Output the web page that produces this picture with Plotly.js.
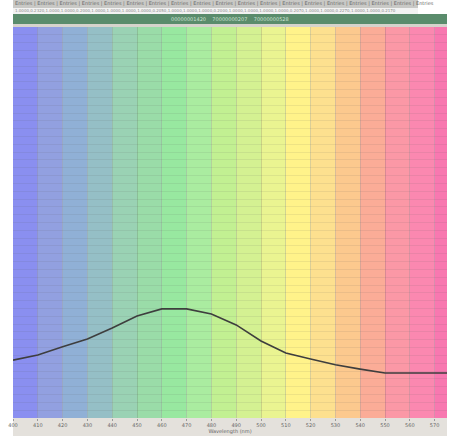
<!DOCTYPE html>
<html><head><meta charset="utf-8">
<script src="https://cdn.plot.ly/plotly-3.0.1.min.js"></script>
<style>html,body{margin:0;padding:0;background:#fff;}#chart{width:455px;height:436px;}</style>
</head><body><div id="chart"></div>
<script>
// data
const tickLabels = ["400","410","420","430","440","450","460","470","480","490","500","510","520","530","540","550","560","570"];
const pointX = [0,1,2,3,4,5,6,7,8,9,10,11,12,13,14,15,16,17.5];
const pointY = [0.148,0.161,0.182,0.202,0.230,0.261,0.279,0.279,0.266,0.238,0.197,0.166,0.151,0.136,0.125,0.115,0.115,0.115];
const bandStart = [0,1,2,3,4,5,6,7,8,9,10,11,12,13,14,15,16,17];
const bandColors = ["#8a8ff0","#92a0e0","#90b0d6","#95bfc6","#9ad2b4","#9adca8","#98e8a0","#aaeca0","#c2f092","#d4f192","#eaf491","#fff38a","#fde08f","#fcc98e","#fbac97","#fb98a6","#fb88b0","#f878b0"];

const ty = py => (418 - py) / 391;
const tx = px => (px - 13) / 434;

const shapes = bandStart.map((s, i) => ({
  type: 'rect', xref: 'x', yref: 'paper', layer: 'below',
  x0: s, x1: s + 1, y0: 0, y1: 1,
  fillcolor: bandColors[i], line: {width: 0}
}));
// header decoration
shapes.push({type:'rect', xref:'paper', yref:'paper', x0:0, x1:tx(418), y0:ty(8), y1:ty(0), fillcolor:'#c9c9c6', line:{width:0}, layer:'above'});
shapes.push({type:'rect', xref:'paper', yref:'paper', x0:0, x1:tx(418), y0:ty(14), y1:ty(8), fillcolor:'#f2f2f2', line:{width:0}, layer:'above'});
shapes.push({type:'rect', xref:'paper', yref:'paper', x0:0, x1:1, y0:ty(24), y1:ty(14), fillcolor:'#5a8c6c', line:{width:0}, layer:'above'});
shapes.push({type:'rect', xref:'paper', yref:'paper', x0:0, x1:1, y0:ty(27), y1:ty(24), fillcolor:'#d6d3cc', line:{width:0}, layer:'above'});
shapes.push({type:'rect', xref:'paper', yref:'paper', x0:0, x1:1, y0:ty(436), y1:ty(418), fillcolor:'#e4e1dc', line:{width:0}, layer:'below'});

const tabs = [];
for (let i = 0; i < 19; i++) tabs.push("Entries");
const annotations = [
  {xref:'paper', yref:'paper', x:0, y:ty(4), xanchor:'left', yanchor:'middle', showarrow:false,
   text: tabs.join(" | "), font:{family:'DejaVu Sans', size:5, color:'#6a6a6a'}},
  {xref:'paper', yref:'paper', x:0, y:ty(11), xanchor:'left', yanchor:'middle', showarrow:false,
   text: "1.0000,0.2320,1.0000,1.0000,0.2000,1.0000,1.0000,1.0000,1.0000,0.2050,1.0000,1.0000,1.0000,0.2000,1.0000,1.0000,1.0000,1.0000,0.2070,1.0000,1.0000,0.2270,1.0000,1.0000,0.2170", font:{family:'DejaVu Sans', size:4, color:'#8a8a8a'}},
  {xref:'paper', yref:'paper', x:0.5, y:ty(19), xanchor:'center', yanchor:'middle', showarrow:false,
   text: "00000001420    70000000207    70000000528", font:{family:'DejaVu Sans', size:5, color:'#cfe3d4'}}
];

const traces = [{
  type: 'scatter', mode: 'lines', x: pointX, y: pointY,
  line: {color: '#3e3e3e', width: 1.6}, hoverinfo: 'skip'
}];

const layout = {
  width: 455, height: 436,
  margin: {l: 13, r: 8, t: 27, b: 18, pad: 0},
  paper_bgcolor: '#ffffff', plot_bgcolor: 'rgba(0,0,0,0)',
  showlegend: false,
  xaxis: {
    range: [0, 17.5], tickvals: bandStart, ticktext: tickLabels,
    showgrid: true, gridcolor: 'rgba(90,90,90,0.22)', gridwidth: 1,
    zeroline: false, showline: false,
    ticks: 'outside', ticklen: 2, tickcolor: '#999',
    tickfont: {family: 'DejaVu Sans', size: 5, color: '#666'},
    title: {text: 'Wavelength (nm)', font: {family: 'DejaVu Sans', size: 5, color: '#666'}, standoff: 1}
  },
  yaxis: {
    range: [0, 1], dtick: 0.02, showticklabels: false, ticks: '',
    showgrid: true, gridcolor: 'rgba(90,90,90,0.10)', gridwidth: 1,
    zeroline: false, showline: false
  },
  shapes: shapes, annotations: annotations
};
Plotly.newPlot('chart', traces, layout, {displayModeBar: false, staticPlot: true});
</script></body></html>
